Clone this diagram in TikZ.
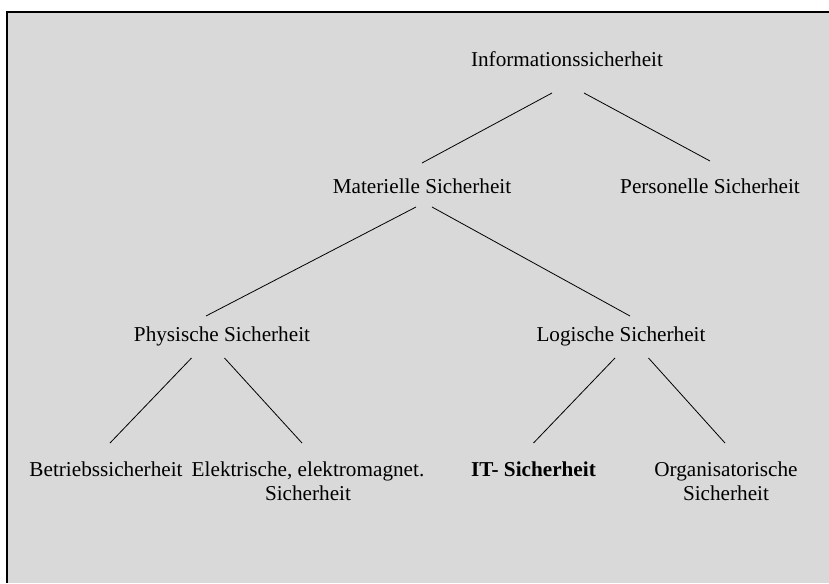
\documentclass[tikz,border=0pt]{standalone}
\usepackage{fontspec}
\setmainfont{Liberation Serif}
\usetikzlibrary{positioning}
\definecolor{panelgray}{RGB}{217,217,217}

\begin{document}
\begin{tikzpicture}[x=1pt,y=-1pt,
    every node/.style={anchor=base,inner sep=0pt,font=\fontsize{21.2}{24}\selectfont},
    branch/.style={line width=.8pt}]
  \useasboundingbox (0,0) rectangle (829,583);
  \fill[panelgray] (7,12) rectangle (829,583);
  \draw[line width=1.3pt] (829,12) -- (7,12) -- (7,583);

  \node (info) at (567,67) {Informationssicherheit};
  \node (mat)  at (422,193) {Materielle Sicherheit};
  \node (pers) at (710,193) {Personelle Sicherheit};
  \node (phys) at (222,341) {Physische Sicherheit};
  \node (log)  at (621,341) {Logische Sicherheit};
  \node (betr) at (106,476) {Betriebssicherheit};
  % base of a two-line node sits on its last line
  \node[align=center] (elek) at (308,500) {Elektrische, elektromagnet.\\Sicherheit};
  \node[font=\fontsize{21.2}{24}\selectfont\bfseries] (it) at (533.5,476) {IT- Sicherheit};
  \node[align=center] (org) at (726,500) {Organisatorische\\Sicherheit};

  \draw[branch] ([shift={(-15,26)}]info.base) -- ([shift={(0,-30)}]mat.base);
  \draw[branch] ([shift={(17,26)}]info.base) -- ([shift={(0,-32)}]pers.base);
  \draw[branch] ([shift={(-6,14)}]mat.base) -- ([shift={(-16,-25)}]phys.base);
  \draw[branch] ([shift={(10,14)}]mat.base) -- ([shift={(9,-25)}]log.base);
  \draw[branch] ([shift={(-30.5,17)}]phys.base) -- ([shift={(4,-33)}]betr.base);
  \draw[branch] ([shift={(2.5,17)}]phys.base) -- ([shift={(-6,-57)}]elek.base);
  \draw[branch] ([shift={(-6,17)}]log.base) -- ([shift={(0,-33)}]it.base);
  \draw[branch] ([shift={(27.5,17)}]log.base) -- ([shift={(-1,-57)}]org.base);
\end{tikzpicture}
\end{document}
